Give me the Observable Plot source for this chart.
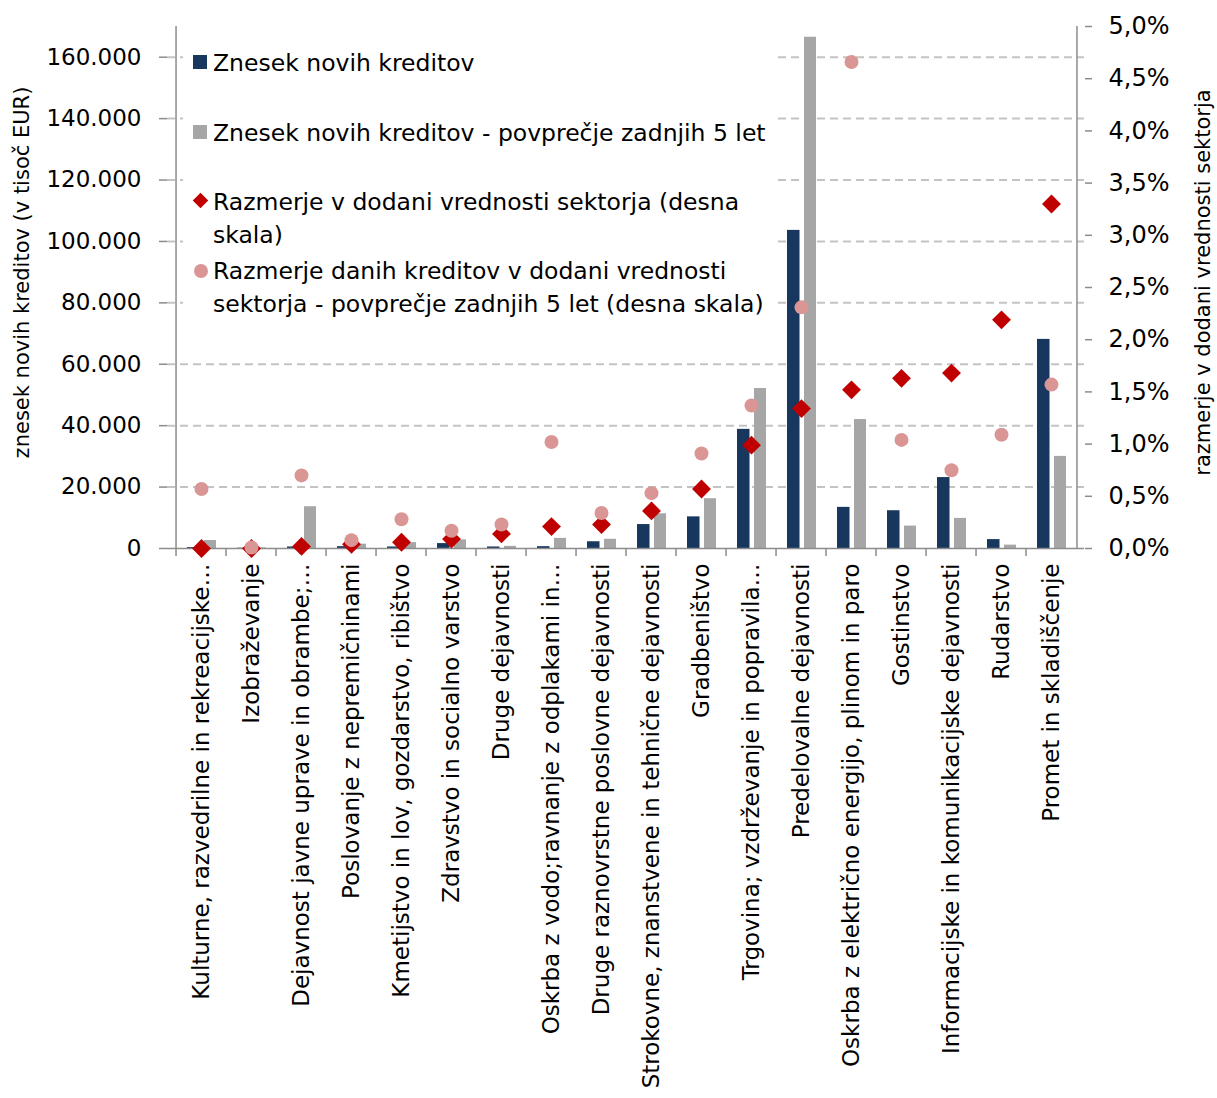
<!DOCTYPE html>
<html>
<head>
<meta charset="utf-8">
<script src="https://cdn.jsdelivr.net/npm/d3@7"></script>
<script src="https://cdn.jsdelivr.net/npm/@observablehq/plot@0.6"></script>
<style>
  html, body { margin: 0; padding: 0; background: #fff; }
  #wrap { position: relative; width: 1217px; height: 1098px; font-family: "DejaVu Sans", sans-serif; }
  .lg { position: absolute; font-size: 23.5px; line-height: 33px; color: #000; white-space: nowrap; }
  .sw { position: absolute; }
  #lgbox { position: absolute; left: 183px; top: 34px; width: 592px; height: 294px; background: #fff; }
</style>
</head>
<body>
<div id="wrap"></div>
<script>
const categories = [
  "Kulturne, razvedrilne in rekreacijske…",
  "Izobraževanje",
  "Dejavnost javne uprave in obrambe;…",
  "Poslovanje z nepremičninami",
  "Kmetijstvo in lov, gozdarstvo, ribištvo",
  "Zdravstvo in socialno varstvo",
  "Druge dejavnosti",
  "Oskrba z vodo;ravnanje z odplakami in…",
  "Druge raznovrstne poslovne dejavnosti",
  "Strokovne, znanstvene in tehnične dejavnosti",
  "Gradbeništvo",
  "Trgovina; vzdrževanje in popravila…",
  "Predelovalne dejavnosti",
  "Oskrba z električno energijo, plinom in paro",
  "Gostinstvo",
  "Informacijske in komunikacijske dejavnosti",
  "Rudarstvo",
  "Promet in skladiščenje"
];
// thousand EUR
const newLoans = [300, 100, 500, 600, 500, 1600, 500, 600, 2200, 7800, 10300, 38800, 103600, 13400, 12300, 23100, 2900, 68100];
const newLoansAvg5 = [2600, 200, 13600, 1400, 1900, 2800, 700, 3300, 3000, 11300, 16200, 52100, 166500, 42000, 7300, 9800, 1100, 30000];
// percent of sector value added (right scale)
const ratioVA = [0.00, 0.00, 0.02, 0.04, 0.06, 0.09, 0.14, 0.21, 0.23, 0.36, 0.57, 0.99, 1.34, 1.52, 1.63, 1.68, 2.19, 3.30];
const ratioVAAvg5 = [0.57, 0.01, 0.70, 0.08, 0.28, 0.17, 0.23, 1.02, 0.34, 0.53, 0.91, 1.37, 2.31, 4.66, 1.04, 0.75, 1.09, 1.57];

const leftTicks = d3.range(0, 160001, 20000);
const gridTicks = d3.range(20000, 160001, 20000);
const rightTicksPct = d3.range(0, 5.001, 0.5);

const legendItems = [
  "Znesek novih kreditov",
  "Znesek novih kreditov - povprečje zadnjih 5 let",
  "Razmerje v dodani vrednosti sektorja (desna<br>skala)",
  "Razmerje danih kreditov v dodani vrednosti<br>sektorja - povprečje zadnjih 5 let (desna skala)"
];
const leftTitle = "znesek novih kreditov (v tisoč EUR)";
const rightTitle = "razmerje v dodani vrednosti sektorja";

const LMAX = 170000, RMAX = 5; // left and right scale maxima
const k = LMAX / RMAX;          // left units per 1% on right scale

const data = categories.map((c, i) => ({
  cat: c, loans: newLoans[i], avg: newLoansAvg5[i],
  ratio: ratioVA[i] * k, ratioAvg: ratioVAAvg5[i] * k
}));

const navy = "#17375e", grey = "#a6a6a6", red = "#c00000", pink = "#d99694", axisCol = "#8c8c8c";
const W = 1217, H = 1098;
const mL = 167, mR = 133, mT = 26, mB = 550;
const band = (W - mL - mR) / categories.length;

const plot = Plot.plot({
  width: W, height: H,
  marginLeft: mL, marginRight: mR, marginTop: mT, marginBottom: mB,
  style: { fontFamily: "'DejaVu Sans', sans-serif", fontSize: "24px", background: "#fff", color: "#000", overflow: "visible" },
  x: { type: "band", domain: categories, padding: 0, label: null },
  y: { domain: [0, LMAX], label: null },
  marks: [
    Plot.ruleY(gridTicks, { stroke: "#c3c3c3", strokeWidth: 2, strokeDasharray: "8,5" }),
    Plot.barY(data, { x: "cat", y: "loans", fill: navy, insetLeft: 11, insetRight: 26.5 }),
    Plot.barY(data, { x: "cat", y: "avg", fill: grey, insetLeft: 28, insetRight: 10 }),
    Plot.ruleY([0], { stroke: axisCol, strokeWidth: 1.5 }),
    Plot.ruleX([categories[0]], { x: d => d, y1: 0, y2: LMAX, dx: -band / 2, stroke: axisCol, strokeWidth: 1.5 }),
    Plot.ruleX([categories[categories.length - 1]], { x: d => d, y1: 0, y2: LMAX, dx: band / 2, stroke: axisCol, strokeWidth: 1.5 }),
    Plot.axisX({ tickSize: 8, tickFormat: () => "", dx: -band / 2, stroke: axisCol, strokeWidth: 1.5 }),
    Plot.axisX({ tickSize: 0, tickPadding: 15, tickRotate: -90, fontSize: 23, fill: "#000" }),
    Plot.axisY({ anchor: "left", ticks: leftTicks, tickSize: 8, tickPadding: 18, stroke: axisCol, strokeWidth: 1.5, fontSize: 23, fill: "#000",
      tickFormat: v => d3.format(",")(v).replace(/,/g, ".") }),
    Plot.axisY({ anchor: "right", ticks: rightTicksPct.map(p => p * k), tickSize: 7, tickPadding: 17, stroke: axisCol, strokeWidth: 1.5, fontSize: 24, fill: "#000",
      tickFormat: v => (v / k).toFixed(1).replace(".", ",") + "%" }),
    Plot.dot(data, { x: "cat", y: "ratio", symbol: "diamond2", r: 8.5, fill: red }),
    Plot.dot(data, { x: "cat", y: "ratioAvg", symbol: "circle", r: 7, fill: pink }),
    Plot.text([leftTitle], { text: d => d, frameAnchor: "left", textAnchor: "middle", rotate: -90, dx: -145, dy: -15, fontSize: 21, fill: "#000" }),
    Plot.text([rightTitle], { text: d => d, frameAnchor: "right", textAnchor: "middle", rotate: -90, dx: 119, dy: -5, fontSize: 21, fill: "#000" })
  ]
});

const wrap = document.getElementById("wrap");
wrap.appendChild(plot);

// legend (overlay inside plot area, white box hides gridlines like the reference)
wrap.insertAdjacentHTML("beforeend", `<div id="lgbox"></div>`);
const lg = [
  { top: 47, sw: `<div class="sw" style="left:193px;top:55px;width:14px;height:14px;background:${navy}"></div>` },
  { top: 117, sw: `<div class="sw" style="left:193px;top:125px;width:14px;height:14px;background:${grey}"></div>` },
  { top: 186, sw: `<div class="sw" style="left:195px;top:195px;width:11px;height:11px;background:${red};transform:rotate(45deg)"></div>` },
  { top: 255, sw: `<div class="sw" style="left:194px;top:264px;width:14px;height:14px;border-radius:50%;background:${pink}"></div>` }
];
lg.forEach((o, i) => {
  wrap.insertAdjacentHTML("beforeend", o.sw + `<div class="lg" style="left:213px;top:${o.top}px">${legendItems[i]}</div>`);
});
</script>
</body>
</html>
